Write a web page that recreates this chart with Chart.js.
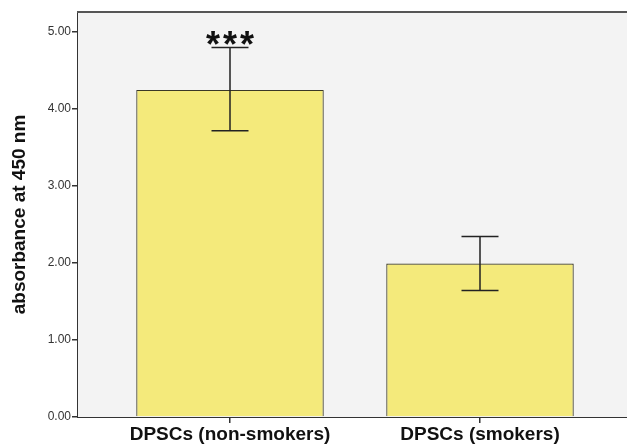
<!DOCTYPE html>
<html>
<head>
<meta charset="utf-8">
<script src="https://cdn.jsdelivr.net/npm/chart.js@4"></script>
<style>
  html, body { margin: 0; padding: 0; background: #fff; }
  #wrap { width: 627px; height: 444px; }
</style>
</head>
<body>
<div id="wrap"><canvas id="chart"></canvas></div>
<script>
const groups = ["DPSCs (non-smokers)", "DPSCs (smokers)"];
const positions = [0, 1];
const means = [4.24, 1.99];
const errLow = [3.71, 1.64];
const errHigh = [4.79, 2.34];
const marks = ["***", ""];
const yTicks = [0, 1, 2, 3, 4, 5];

// plot background, top frame, error bars and the significance stars
const extras = {
  id: "extras",
  beforeDatasetsDraw(chart) {
    const { ctx, chartArea } = chart;
    ctx.save();
    ctx.fillStyle = "#f3f3f3";
    ctx.fillRect(chartArea.left, chartArea.top, chartArea.right - chartArea.left, chartArea.bottom - chartArea.top);
    ctx.strokeStyle = "#555";
    ctx.lineWidth = 2;
    ctx.beginPath();
    ctx.moveTo(chartArea.left - 1, chartArea.top);
    ctx.lineTo(chartArea.right, chartArea.top);
    ctx.stroke();
    ctx.restore();
  },
  afterDatasetsDraw(chart) {
    const { ctx } = chart;
    const x = chart.scales.x;
    const y = chart.scales.y;
    ctx.save();
    ctx.strokeStyle = "#222";
    ctx.lineWidth = 1.5;
    positions.forEach((p, i) => {
      const px = x.getPixelForValue(p);
      const top = y.getPixelForValue(errHigh[i]);
      const bot = y.getPixelForValue(errLow[i]);
      ctx.beginPath();
      ctx.moveTo(px, top);
      ctx.lineTo(px, bot);
      ctx.moveTo(px - 18.5, top);
      ctx.lineTo(px + 18.5, top);
      ctx.moveTo(px - 18.5, bot);
      ctx.lineTo(px + 18.5, bot);
      ctx.stroke();
      if (marks[i]) {
        ctx.fillStyle = "#111";
        ctx.font = "bold 36px Arial";
        ctx.textAlign = "center";
        ctx.textBaseline = "alphabetic";
        const m = ctx.measureText("*");
        const base = top - 16 + m.actualBoundingBoxAscent;
        [...marks[i]].forEach((s, k) => {
          ctx.fillText(s, px + (k - 1) * 17, base);
        });
      }
    });
    ctx.restore();
  }
};

new Chart(document.getElementById("chart"), {
  type: "bar",
  data: {
    datasets: [
      {
        data: positions.map((p, i) => ({ x: p, y: means[i] })),
        backgroundColor: "#f4ea7b",
        borderColor: "#3a3826",
        borderWidth: 1.2,
        barPercentage: 0.75,
        categoryPercentage: 1,
      },
    ],
  },
  options: {
    responsive: true,
    maintainAspectRatio: false,
    animation: false,
    layout: { padding: { top: 12, right: 0, left: 0, bottom: 0 } },
    plugins: { legend: { display: false }, tooltip: { enabled: false } },
    scales: {
      x: {
        type: "linear",
        offset: false,
        min: -0.608,
        max: 1.588,
        afterBuildTicks: (scale) => {
          scale.ticks = positions.map((p) => ({ value: p }));
        },
        afterFit: (scale) => {
          scale.height = 27;
        },
        ticks: {
          callback: (v) => groups[positions.indexOf(v)] || "",
          color: "#111",
          font: { family: "Arial", size: 19, weight: "bold" },
          padding: 0,
          maxRotation: 0,
          autoSkip: false,
        },
        grid: { offset: false, drawOnChartArea: false, tickLength: 6, color: "#333", lineWidth: 1.5 },
        border: { color: "#333", width: 2 },
      },
      y: {
        min: 0,
        max: 5.25,
        afterBuildTicks: (scale) => {
          scale.ticks = yTicks.map((v) => ({ value: v }));
        },
        afterFit: (scale) => {
          scale.width = 78;
        },
        ticks: {
          callback: (v) => v.toFixed(2),
          color: "#333",
          font: { family: "Arial", size: 12 },
          padding: 1,
        },
        grid: { drawOnChartArea: false, tickLength: 6, color: "#333", lineWidth: 1.5 },
        border: { color: "#333", width: 2 },
        title: {
          display: true,
          text: "absorbance at 450 nm",
          color: "#111",
          font: { family: "Arial", size: 19, weight: "bold" },
          padding: { top: 8, bottom: 0 },
        },
      },
    },
  },
  plugins: [extras],
});
</script>
</body>
</html>
